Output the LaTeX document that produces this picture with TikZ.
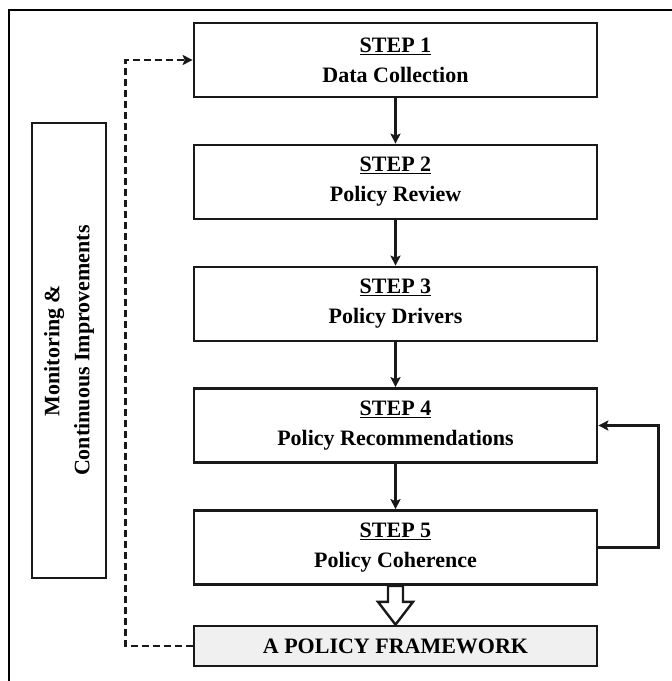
\documentclass[tikz,border=0pt]{standalone}
\usepackage{fontspec}
\setmainfont{Liberation Serif}
\usetikzlibrary{arrows.meta,calc}
\begin{document}
\begin{tikzpicture}[x=1pt,y=-1pt,
  stepbox/.style={draw=black!90,line width=2.7pt,minimum width=403pt,minimum height=74pt,inner sep=0pt,
    align=center,font=\fontsize{22}{30}\selectfont\bfseries,fill=white},
  arr/.style={draw=black!90,line width=2.3pt,-{Stealth[length=10pt,width=10pt,inset=2pt]}},
  darr/.style={draw=black!90,line width=2.5pt,dash pattern=on 7pt off 4pt,-{Stealth[length=10pt,width=10pt,inset=2pt]}}
]
\useasboundingbox (0,0) rectangle (672,681);
% outer frame
\coordinate (fb) at (672,10);
\coordinate (fc) at (9,681);
\draw[line width=2.2pt] (fb) -- (9,10) -- (fc);

\node[stepbox] (s1) at (395.5,60) {\underline{STEP 1}\\Data Collection};
\node[stepbox] (s2) at (395.5,182) {\underline{STEP 2}\\Policy Review};
\node[stepbox] (s3) at (395.5,304) {\underline{STEP 3}\\Policy Drivers};
\node[stepbox] (s4) at (395.5,425.5) {\underline{STEP 4}\\Policy Recommendations};
\node[stepbox] (s5) at (395.5,547.5) {\underline{STEP 5}\\Policy Coherence};
\node[stepbox,minimum height=40pt,fill=black!6] (fw) at (395.5,646) {A POLICY FRAMEWORK};

\node[stepbox,minimum width=455pt,minimum height=74pt,rotate=90] (mon) at (69,350.5)
  {Monitoring \&\\Continuous Improvements};

\draw[arr] (s1.south) -- (s2.north);
\draw[arr] (s2.south) -- (s3.north);
\draw[arr] (s3.south) -- (s4.north);
\draw[arr] (s4.south) -- (s5.north);

\draw[arr] (s5.east) -- ++(60,0) |- (s4.east);
\draw[darr] (fw.west) -- ++(-67,0) |- (s1.west);

% hollow block arrow
\draw[line width=2.4pt,draw=black!90,fill=white,line join=miter]
  ($(s5.south)+(-7.5,0)$) -- ($(s5.south)+(7.5,0)$) -- ($(s5.south)+(7.5,16)$)
  -- ($(s5.south)+(17.5,16)$) -- (fw.north) -- ($(s5.south)+(-17.5,16)$)
  -- ($(s5.south)+(-7.5,16)$) -- cycle;
\end{tikzpicture}
\end{document}
